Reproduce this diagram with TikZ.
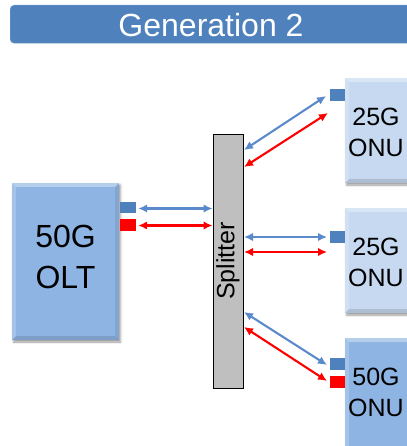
\documentclass[tikz,border=0pt]{standalone}
\usepackage{fontspec}
\setmainfont{Liberation Sans}
\usetikzlibrary{arrows.meta,shadows.blur}
\definecolor{barblue}{HTML}{4F81BD}
\definecolor{oltblue}{HTML}{8EB4E3}
\definecolor{onulight}{HTML}{C6D9F1}
\definecolor{splgray}{HTML}{BFBFBF}
\definecolor{portblue}{HTML}{4F81BD}
\definecolor{arrblue}{HTML}{5A8ACB}
\definecolor{portred}{HTML}{FF0000}
\tikzset{
  bevel/.style={path picture={
    \fill[white,opacity=0.35] (path picture bounding box.north west) -- (path picture bounding box.north east)
      -- ([xshift=-4pt,yshift=-4pt]path picture bounding box.north east) -- ([xshift=4pt,yshift=-4pt]path picture bounding box.north west) -- cycle;
    \fill[white,opacity=0.2] (path picture bounding box.north west) -- (path picture bounding box.south west)
      -- ([xshift=4pt,yshift=4pt]path picture bounding box.south west) -- ([xshift=4pt,yshift=-4pt]path picture bounding box.north west) -- cycle;
    \fill[black,opacity=0.12] (path picture bounding box.south west) -- (path picture bounding box.south east)
      -- ([xshift=-4pt,yshift=4pt]path picture bounding box.south east) -- ([xshift=4pt,yshift=4pt]path picture bounding box.south west) -- cycle;
    \fill[black,opacity=0.08] (path picture bounding box.north east) -- (path picture bounding box.south east)
      -- ([xshift=-4pt,yshift=4pt]path picture bounding box.south east) -- ([xshift=-4pt,yshift=-4pt]path picture bounding box.north east) -- cycle;
  }},
  unit/.style={fill=#1, draw=none, inner sep=0pt, bevel,
    blur shadow={shadow xshift=1.5pt, shadow yshift=-2pt, shadow blur steps=4, shadow opacity=40}},
  port/.style={fill=#1, draw=none, inner sep=0pt, minimum width=15pt, minimum height=12pt},
  bigtext/.style={font=\fontsize{32}{41}\selectfont, align=center, inner sep=0pt},
  onutext/.style={font=\fontsize{25}{31}\selectfont, align=center, inner sep=0pt},
  link/.style={{Latex[length=9pt,width=8.5pt]}-{Latex[length=9pt,width=8.5pt]}, line width=2.1pt, draw=#1},
}
\begin{document}
\begin{tikzpicture}[x=1pt,y=-1pt]
\useasboundingbox (0,0) rectangle (406,446);
% title
\node[fill=barblue, draw=barblue!80!white, rounded corners=4pt, minimum width=410pt, minimum height=38pt, inner sep=0pt, anchor=north west] (bar) at (10,5) {};
\node[text=white, font=\fontsize{32}{38}\selectfont, inner sep=0pt] (title) at (211,25) {Generation 2};
% OLT
\node[unit=oltblue, minimum width=107pt, minimum height=157pt] (olt) at (65.5,261.5) {};
\node[bigtext] (oltT) at (65.5,257) {50G\\OLT};
\node[port=portblue, minimum width=16pt, minimum height=11pt] (oltB) at (128,207.5) {};
\node[port=portred, minimum width=16pt, minimum height=12pt] (oltR) at (128,225) {};
% splitter
\node[fill=splgray, draw=black, line width=0.8pt, minimum width=30pt, minimum height=254pt, inner sep=0pt] (spl) at (228,261) {};
\node[rotate=90, font=\fontsize{25}{30}\selectfont, inner sep=0pt] (splT) at (228,261) {Splitter};
% ONU 1
\node[unit=onulight, minimum width=76pt, minimum height=105pt] (onu1) at (383,130.5) {};
\node[onutext] (onu1T) at (376,132) {25G\\ONU};
\node[port=portblue] (onu1B) at (337,95) {};
% ONU 2
\node[unit=onulight, minimum width=76pt, minimum height=105pt] (onu2) at (383,260.5) {};
\node[onutext] (onu2T) at (376,262) {25G\\ONU};
\node[port=portblue] (onu2B) at (337,236.5) {};
% ONU 3
\node[unit=oltblue, minimum width=76pt, minimum height=120pt] (onu3) at (383,398) {};
\node[onutext] (onu3T) at (376,392) {50G\\ONU};
\node[port=portblue] (onu3B) at (337,364) {};
\node[port=portred, minimum height=12pt] (onu3R) at (337,382) {};
% connector end points
\coordinate (sA) at (212.5,208.5);
\coordinate (sB) at (212.5,225.5);
\coordinate (s1b) at (244,150);
\coordinate (s1r) at (244,167);
\coordinate (s2b) at (244,237);
\coordinate (s2r) at (244,252);
\coordinate (s3b) at (244,312);
\coordinate (s3r) at (244,327);
\coordinate (e1b) at (326,96);
\coordinate (e1r) at (328,113);
\coordinate (e2b) at (327,237);
\coordinate (e2r) at (327,252);
\coordinate (e3b) at (327,365);
\coordinate (e3r) at (327,381);
% links
\draw[link=arrblue] ([xshift=2pt]oltB.east |- sA) -- (sA);
\draw[link=portred] ([xshift=2pt]oltR.east |- sB) -- (sB);
\draw[link=arrblue] (s1b) -- (e1b);
\draw[link=portred] (s1r) -- (e1r);
\draw[link=arrblue] (s2b) -- (e2b);
\draw[link=portred] (s2r) -- (e2r);
\draw[link=arrblue] (s3b) -- (e3b);
\draw[link=portred] (s3r) -- (e3r);
\end{tikzpicture}
\end{document}
